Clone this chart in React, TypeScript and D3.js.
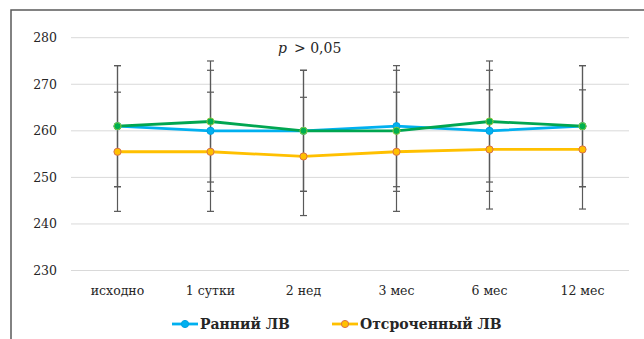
import React, { useEffect } from 'react';
import * as d3 from 'd3';

const categories = ['исходно', '1 сутки', '2 нед', '3 мес', '6 мес', '12 мес'];
const earlyValues = [261, 260, 260, 261, 260, 261];
const earlyErr = [13, 13, 13, 13, 13, 13];
const delayedValues = [255.5, 255.5, 254.5, 255.5, 256, 256];
const delayedErr = [12.8, 12.8, 12.7, 12.8, 12.8, 12.8];
const thirdValues = [261, 262, 260, 260, 262, 261];
const thirdErr = [13, 13, 13, 13, 13, 13];
const yTicks = [230, 240, 250, 260, 270, 280];

const W = 644;
const H = 339;
// only serif face that resolves in the sandbox
const font = 'DejaVu Serif';

interface Series {
  name: string;
  values: number[];
  err: number[];
  line: string;
  fill: string;
  stroke: string;
}

const series: Series[] = [
  { name: 'Ранний ЛВ', values: earlyValues, err: earlyErr, line: '#00B0F0', fill: '#00B0F0', stroke: '#00A0E0' },
  { name: 'Отсроченный ЛВ', values: delayedValues, err: delayedErr, line: '#FFC000', fill: '#FFC000', stroke: '#D9704A' },
  { name: '', values: thirdValues, err: thirdErr, line: '#00A651', fill: '#00B050', stroke: '#8CC63F' },
];

export default function App() {
  useEffect(() => {
    document.body.style.margin = '0';
  }, []);

  const x = d3.scaleBand<string>().domain(categories).range([71, 629]).padding(0);
  const cx = (c: string) => (x(c) ?? 0) + x.bandwidth() / 2;
  const y = d3.scaleLinear().domain([230, 280]).range([270.5, 37.7]);

  const line = d3
    .line<number>()
    .x((_d, i) => cx(categories[i]))
    .y(d => y(d));

  const legendItems = [
    { s: series[0], x0: 172 },
    { s: series[1], x0: 332 },
  ];

  return (
    <svg width={W} height={H} style={{ display: 'block', fontFamily: font }}>
      <rect x={0} y={0} width={W} height={H} fill="#fff" />
      <rect x={11} y={10} width={W + 20} height={H + 20} fill="none" stroke="#595959" strokeWidth={1.5} />

      {yTicks.map(t => (
        <g key={t}>
          <line x1={71} x2={629} y1={y(t)} y2={y(t)} stroke="#d9d9d9" strokeWidth={1} />
          <text x={57} y={y(t) + 4.5} textAnchor="end" fontSize={12.5} fill="#262626">
            {t}
          </text>
        </g>
      ))}

      {categories.map(c => (
        <text key={c} x={cx(c)} y={295} textAnchor="middle" fontSize={12.5} fill="#262626">
          {c}
        </text>
      ))}

      {series.map((s, si) =>
        s.values.map((v, i) => {
          const px = cx(categories[i]);
          const top = y(v + s.err[i]);
          const bot = y(v - s.err[i]);
          return (
            <g key={`e${si}-${i}`} stroke="#595959" strokeWidth={1.2}>
              <line x1={px} x2={px} y1={top} y2={bot} />
              <line x1={px - 3.5} x2={px + 3.5} y1={top} y2={top} />
              <line x1={px - 3.5} x2={px + 3.5} y1={bot} y2={bot} />
            </g>
          );
        })
      )}

      {series.map((s, si) => (
        <g key={`s${si}`}>
          <path d={line(s.values) ?? ''} fill="none" stroke={s.line} strokeWidth={2.8} strokeLinejoin="round" />
          {s.values.map((v, i) => (
            <circle key={i} cx={cx(categories[i])} cy={y(v)} r={3.6} fill={s.fill} stroke={s.stroke} strokeWidth={1} />
          ))}
        </g>
      ))}

      <text x={278} y={53} fontSize={14} fill="#262626">
        <tspan fontStyle="italic">p</tspan>
        <tspan dx={7}>{'> 0,05'}</tspan>
      </text>

      {legendItems.map(({ s, x0 }) => (
        <g key={s.name}>
          <line x1={x0} x2={x0 + 26} y1={324} y2={324} stroke={s.line} strokeWidth={2.8} />
          <circle cx={x0 + 13} cy={324} r={3.6} fill={s.fill} stroke={s.stroke} strokeWidth={1} />
          <text x={x0 + 28} y={329} fontSize={14} fontWeight="bold" fill="#262626">
            {s.name}
          </text>
        </g>
      ))}
    </svg>
  );
}
